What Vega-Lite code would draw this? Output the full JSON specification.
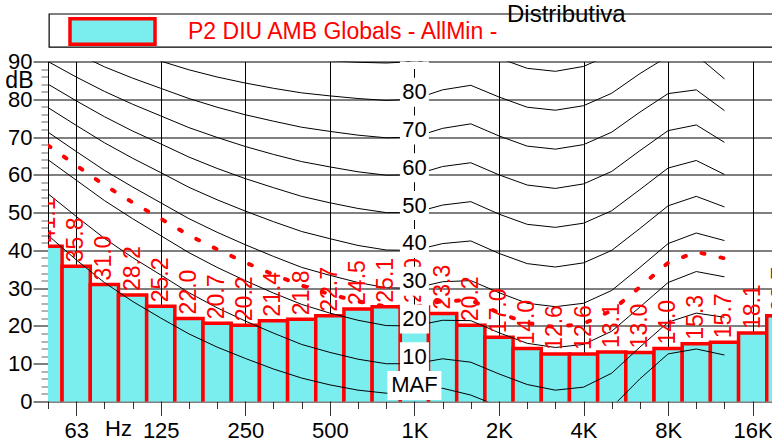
{
  "$schema": "https://vega.github.io/schema/vega-lite/v6.json",
  "width": 724,
  "height": 340,
  "autosize": {"type": "none"},
  "padding": {"left": 48, "top": 61.5, "right": 0, "bottom": 40.5},
  "background": "white",
  "config": {
    "view": {"stroke": null},
    "font": "Liberation Sans",
    "axis": {
      "labelFont": "Liberation Sans", "titleFont": "Liberation Sans",
      "labelColor": "black", "titleColor": "black",
      "domainColor": "black", "domainWidth": 1,
      "gridColor": "black", "gridWidth": 1,
      "labelFontSize": 22, "titleFontSize": 22, "titleFontWeight": "normal",
      "labelOverlap": false, "labelFlush": false, "tickWidth": 1
    }
  },
  "datasets": {
    "bands": [
      {"b": -13, "v": 41.1}, {"b": -12, "v": 35.8}, {"b": -11, "v": 31.0}, {"b": -10, "v": 28.2},
      {"b": -9, "v": 25.2}, {"b": -8, "v": 22.0}, {"b": -7, "v": 20.7}, {"b": -6, "v": 20.2},
      {"b": -5, "v": 21.4}, {"b": -4, "v": 21.8}, {"b": -3, "v": 22.7}, {"b": -2, "v": 24.5},
      {"b": -1, "v": 25.1}, {"b": 0, "v": 25.0}, {"b": 1, "v": 23.3}, {"b": 2, "v": 20.2},
      {"b": 3, "v": 17.0}, {"b": 4, "v": 14.0}, {"b": 5, "v": 12.6}, {"b": 6, "v": 12.6},
      {"b": 7, "v": 13.1}, {"b": 8, "v": 13.0}, {"b": 9, "v": 14.0}, {"b": 10, "v": 15.3},
      {"b": 11, "v": 15.7}, {"b": 12, "v": 18.1}, {"b": 13, "v": 22.7}
    ],
    "iso": [
      {"b": -13, "maf": 44.0, "p10": 55.0, "p20": 64.0, "p25": 67.8, "p30": 71.3, "p40": 77.8, "p50": 84.0, "p60": 90.0, "p70": 95.9, "p80": 101.7, "p90": 107.5},
      {"b": -12, "maf": 37.5, "p10": 49.0, "p20": 58.6, "p25": 62.5, "p30": 66.2, "p40": 73.1, "p50": 79.6, "p60": 85.9, "p70": 92.2, "p80": 98.4, "p90": 104.5},
      {"b": -11, "maf": 31.5, "p10": 43.2, "p20": 53.2, "p25": 57.3, "p30": 61.2, "p40": 68.5, "p50": 75.4, "p60": 82.1, "p70": 88.6, "p80": 95.2, "p90": 101.7},
      {"b": -10, "maf": 26.5, "p10": 38.1, "p20": 48.4, "p25": 52.7, "p30": 56.8, "p40": 64.4, "p50": 71.6, "p60": 78.7, "p70": 85.6, "p80": 92.5, "p90": 99.3},
      {"b": -9, "maf": 22.1, "p10": 33.5, "p20": 43.9, "p25": 48.4, "p30": 52.6, "p40": 60.6, "p50": 68.2, "p60": 75.6, "p70": 82.9, "p80": 90.1, "p90": 97.3},
      {"b": -8, "maf": 17.9, "p10": 28.8, "p20": 39.4, "p25": 44.0, "p30": 48.4, "p40": 56.7, "p50": 64.7, "p60": 72.5, "p70": 80.2, "p80": 87.8, "p90": 95.4},
      {"b": -7, "maf": 14.4, "p10": 24.8, "p20": 35.5, "p25": 40.3, "p30": 44.8, "p40": 53.4, "p50": 61.7, "p60": 69.9, "p70": 77.9, "p80": 85.9, "p90": 93.9},
      {"b": -6, "maf": 11.4, "p10": 21.3, "p20": 32.0, "p25": 36.8, "p30": 41.5, "p40": 50.4, "p50": 59.0, "p60": 67.5, "p70": 75.9, "p80": 84.3, "p90": 92.7},
      {"b": -5, "maf": 8.6, "p10": 18.1, "p20": 28.7, "p25": 33.6, "p30": 38.4, "p40": 47.6, "p50": 56.6, "p60": 65.4, "p70": 74.2, "p80": 82.9, "p90": 91.6},
      {"b": -4, "maf": 6.2, "p10": 15.1, "p20": 25.7, "p25": 30.7, "p30": 35.5, "p40": 45.0, "p50": 54.3, "p60": 63.5, "p70": 72.6, "p80": 81.7, "p90": 90.8},
      {"b": -3, "maf": 4.4, "p10": 13.0, "p20": 23.4, "p25": 28.4, "p30": 33.4, "p40": 43.1, "p50": 52.6, "p60": 62.1, "p70": 71.5, "p80": 80.9, "p90": 90.2},
      {"b": -2, "maf": 3.0, "p10": 11.2, "p20": 21.5, "p25": 26.5, "p30": 31.5, "p40": 41.3, "p50": 51.1, "p60": 60.8, "p70": 70.5, "p80": 80.2, "p90": 89.8},
      {"b": -1, "maf": 2.2, "p10": 10.0, "p20": 20.1, "p25": 25.1, "p30": 30.1, "p40": 40.1, "p50": 50.0, "p60": 59.9, "p70": 69.8, "p80": 79.7, "p90": 89.6},
      {"b": 0, "maf": 2.4, "p10": 10.0, "p20": 20.0, "p25": 25.0, "p30": 30.0, "p40": 40.0, "p50": 50.0, "p60": 60.0, "p70": 70.0, "p80": 80.0, "p90": 90.0},
      {"b": 1, "maf": 3.5, "p10": 11.3, "p20": 21.5, "p25": 26.6, "p30": 31.7, "p40": 41.8, "p50": 52.0, "p60": 62.2, "p70": 72.3, "p80": 82.5, "p90": 92.7},
      {"b": 2, "maf": 1.7, "p10": 10.4, "p20": 21.4, "p25": 26.8, "p30": 32.0, "p40": 42.5, "p50": 52.9, "p60": 63.2, "p70": 73.5, "p80": 83.7, "p90": 94.0},
      {"b": 3, "maf": -1.3, "p10": 7.3, "p20": 18.2, "p25": 23.5, "p30": 28.8, "p40": 39.2, "p50": 49.6, "p60": 60.0, "p70": 70.3, "p80": 80.6, "p90": 90.9},
      {"b": 4, "maf": -4.2, "p10": 4.5, "p20": 15.4, "p25": 20.7, "p30": 26.0, "p40": 36.5, "p50": 46.9, "p60": 57.3, "p70": 67.6, "p80": 77.9, "p90": 88.2},
      {"b": 5, "maf": -6.0, "p10": 3.0, "p20": 14.3, "p25": 19.7, "p30": 25.1, "p40": 35.6, "p50": 46.1, "p60": 56.4, "p70": 66.8, "p80": 77.1, "p90": 87.4},
      {"b": 6, "maf": -5.4, "p10": 3.8, "p20": 15.1, "p25": 20.6, "p30": 26.0, "p40": 36.7, "p50": 47.2, "p60": 57.6, "p70": 68.0, "p80": 78.3, "p90": 88.7},
      {"b": 7, "maf": -1.5, "p10": 7.5, "p20": 18.6, "p25": 24.1, "p30": 29.4, "p40": 40.0, "p50": 50.5, "p60": 60.9, "p70": 71.3, "p80": 81.6, "p90": 92.0},
      {"b": 8, "maf": 6.0, "p10": 14.4, "p20": 25.0, "p25": 30.3, "p30": 35.5, "p40": 45.8, "p50": 56.1, "p60": 66.4, "p70": 76.6, "p80": 86.8, "p90": 97.0},
      {"b": 9, "maf": 12.6, "p10": 21.0, "p20": 31.5, "p25": 36.7, "p30": 41.8, "p40": 51.8, "p50": 61.8, "p60": 71.7, "p70": 81.5, "p80": 91.4, "p90": 101.3},
      {"b": 10, "maf": 13.9, "p10": 23.4, "p20": 34.4, "p25": 39.6, "p30": 44.6, "p40": 54.3, "p50": 63.8, "p60": 73.2, "p70": 82.5, "p80": 91.7, "p90": 101.0},
      {"b": 11, "maf": 12.3, "p10": 22.3, "p20": 33.0, "p25": 37.9, "p30": 42.6, "p40": 51.5, "p50": 60.1, "p60": 68.6, "p70": 77.0, "p80": 85.4, "p90": 93.8}
    ],
    "clabels": [
      {"lab": "90", "phon": 90}, {"lab": "80", "phon": 80}, {"lab": "70", "phon": 70},
      {"lab": "60", "phon": 60}, {"lab": "50", "phon": 50}, {"lab": "40", "phon": 40},
      {"lab": "30", "phon": 30}, {"lab": "20", "phon": 20}, {"lab": "10", "phon": 10},
      {"lab": "MAF", "phon": 2.4}
    ]
  },
  "layer": [
    {
      "data": {"name": "bands"},
      "mark": {"type": "rect", "xOffset": -14.1, "x2Offset": 14.1, "y2Offset": 3, "stroke": "#ff0000", "strokeWidth": 3.5, "clip": true},
      "encoding": {
        "x": {
          "field": "b", "type": "quantitative",
          "scale": {"domain": [-13, 12.686], "nice": false, "zero": false},
          "axis": {
            "values": [-13,-12,-11,-10,-9,-8,-7,-6,-5,-4,-3,-2,-1,0,1,2,3,4,5,6,7,8,9,10,11,12],
            "tickCount": 200,
            "labelExpr": "datum.value === -12 ? '63' : datum.value === -9 ? '125' : datum.value === -6 ? '250' : datum.value === -3 ? '500' : datum.value === 0 ? '1K' : datum.value === 3 ? '2K' : datum.value === 6 ? '4K' : datum.value === 9 ? '8K' : datum.value === 12 ? '16K' : ''",
            "labelOverlap": false, "labelFlush": false,
            "title": "Hz", "titleX": 70, "titleY": 27, "titleBaseline": "middle", "titleAlign": "center", "titleAngle": 0,
            "tickSize": {"condition": {"test": "datum.value % 3 === 0", "value": 14}, "value": 7},
            "tickColor": "#333",
            "grid": true,
            "gridOpacity": {"condition": {"test": "datum.value % 3 === 0 && datum.value > -13", "value": 1}, "value": 0},
            "labelPadding": 5
          }
        },
        "x2": {"field": "b"},
        "y": {
          "field": "v", "type": "quantitative",
          "scale": {"domain": [0, 90], "nice": false},
          "axis": {
            "values": [0,2,4,6,8,10,12,14,16,18,20,22,24,26,28,30,32,34,36,38,40,42,44,46,48,50,52,54,56,58,60,62,64,66,68,70,72,74,76,78,80,82,84,86,88,90],
            "tickCount": 200,
            "labelExpr": "datum.value % 10 === 0 ? format(datum.value, 'd') : ''",
            "labelOverlap": false,
            "title": "dB", "titleAngle": 0, "titleX": -15, "titleY": 19, "titleAlign": "right", "titleBaseline": "middle", "titleFontSize": 23,
            "tickSize": {"condition": {"test": "datum.value % 10 === 0", "value": 15}, "value": 7},
            "tickColor": {"condition": {"test": "datum.value % 10 === 0", "value": "black"}, "value": "#666"},
            "grid": true,
            "gridOpacity": {"condition": {"test": "datum.value % 10 === 0 && datum.value > 0", "value": 1}, "value": 0},
            "labelPadding": 1
          }
        },
        "y2": {"datum": 0},
        "fill": {
          "datum": "P2 DIU AMB Globals - AllMin -", "type": "nominal",
          "scale": {"range": ["#7aedef"]},
          "legend": {
            "orient": "none", "legendX": 20, "legendY": -74.5, "title": null, "padding": 0,
            "symbolType": "M-1,-0.3H1V0.3H-1Z", "symbolSize": 7225,
            "symbolStrokeColor": "#ff0000", "symbolStrokeWidth": 3.5,
            "labelColor": "#ff0000", "labelFontSize": 23, "labelFont": "Liberation Sans",
            "labelOffset": 31, "labelLimit": 0
          }
        }
      }
    },
    {
      "data": {"name": "iso"},
      "transform": [{"fold": ["maf", "p10", "p20", "p30", "p40", "p50", "p60", "p70", "p80", "p90"], "as": ["curve", "lvl"]}],
      "mark": {"type": "line", "color": "black", "strokeWidth": 1, "clip": true},
      "encoding": {
        "x": {"field": "b", "type": "quantitative"},
        "y": {"field": "lvl", "type": "quantitative"},
        "detail": {"field": "curve"}
      }
    },
    {
      "data": {"name": "iso"},
      "mark": {"type": "line", "color": "#ff0000", "strokeWidth": 4, "strokeDash": [3, 16.5], "strokeCap": "round", "clip": true},
      "encoding": {
        "x": {"field": "b", "type": "quantitative"},
        "y": {"field": "p25", "type": "quantitative"}
      }
    },
    {
      "data": {"name": "bands"},
      "mark": {"type": "text", "angle": 270, "align": "left", "baseline": "middle", "dx": 4, "color": "#ff0000", "fontSize": 23, "font": "Liberation Sans", "clip": true},
      "encoding": {
        "x": {"field": "b", "type": "quantitative"},
        "y": {"field": "v", "type": "quantitative"},
        "text": {"field": "v", "type": "quantitative", "format": ".1f"}
      }
    },
    {
      "data": {"name": "clabels"},
      "transform": [{"filter": "datum.lab !== 'MAF'"}],
      "mark": {"type": "rect", "fill": "white", "xOffset": -14.5, "x2Offset": 14.5, "yOffset": -21.5, "y2Offset": 7.5, "clip": true},
      "encoding": {
        "x": {"datum": 0}, "x2": {"datum": 0},
        "y": {"field": "phon", "type": "quantitative"}, "y2": {"field": "phon"}
      }
    },
    {
      "data": {"name": "clabels"},
      "transform": [{"filter": "datum.lab === 'MAF'"}],
      "mark": {"type": "rect", "fill": "white", "xOffset": -27, "x2Offset": 27, "yOffset": -21.5, "y2Offset": 7.5, "clip": true},
      "encoding": {
        "x": {"datum": 0}, "x2": {"datum": 0},
        "y": {"field": "phon", "type": "quantitative"}, "y2": {"field": "phon"}
      }
    },
    {
      "data": {"name": "clabels"},
      "mark": {"type": "text", "fontSize": 22, "font": "Liberation Sans", "color": "black", "baseline": "middle", "align": "center", "dy": -7, "clip": true},
      "encoding": {
        "x": {"datum": 0},
        "y": {"field": "phon", "type": "quantitative"},
        "text": {"field": "lab"}
      }
    },
    {
      "data": {"values": [{}]},
      "mark": {"type": "rect", "fill": "transparent", "stroke": "black", "strokeWidth": 1.2},
      "encoding": {
        "x": {"datum": -12.96}, "x2": {"datum": 14},
        "y": {"datum": 102.57}, "y2": {"datum": 93.83}
      }
    },
    {
      "data": {"values": [{}]},
      "mark": {"type": "text", "text": "Distributiva", "fontSize": 24, "font": "Liberation Sans", "color": "black", "align": "left", "baseline": "middle"},
      "encoding": {
        "x": {"datum": 3.285},
        "y": {"datum": 102.3}
      }
    }
  ]
}
